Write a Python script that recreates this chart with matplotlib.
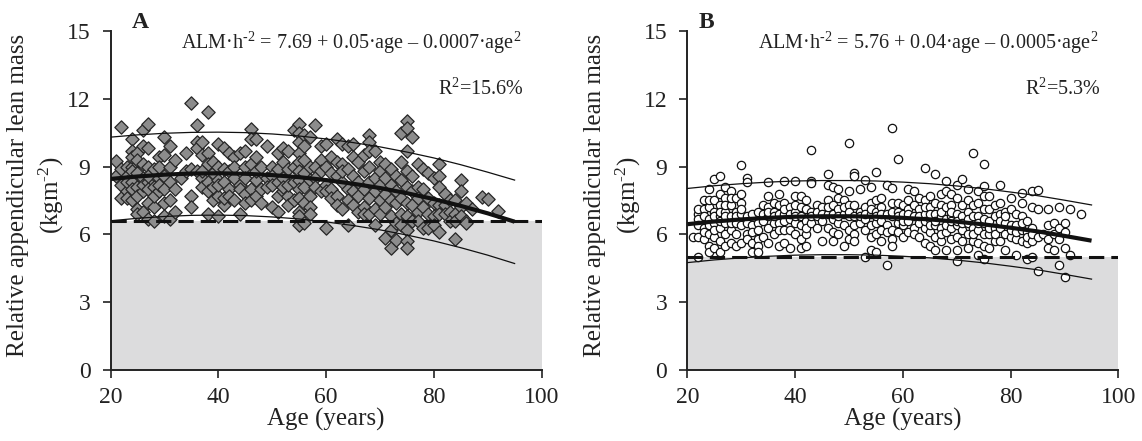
import matplotlib
matplotlib.use("Agg")
import matplotlib.pyplot as plt
import numpy as np

plt.rcParams['font.family'] = ['Liberation Serif', 'DejaVu Serif']
plt.rcParams['mathtext.fontset'] = 'custom'
plt.rcParams['mathtext.rm'] = 'Liberation Serif'
plt.rcParams['mathtext.it'] = 'Liberation Serif:italic'
plt.rcParams['mathtext.bf'] = 'Liberation Serif:bold'

# ---- panel A (diamonds), values read by eye, grouped by age ----
groups_a = {
    21: [9.25, 8.6],
    22: [10.75, 7.6, 8.9, 8.2],
    23: [9.0, 7.9, 8.6, 7.6, 8.3],
    24: [10.2, 9.7, 9.0, 8.3, 7.5, 9.4, 8.8, 8.0],
    25: [9.6, 8.1, 7.1, 8.7, 9.3, 6.9, 7.7],
    26: [10.6, 9.9, 8.5, 7.9, 7.0, 9.1, 8.2],
    27: [10.9, 9.8, 9.0, 7.4, 6.7, 8.3, 8.0, 8.6],
    28: [8.9, 7.2, 6.6, 8.1, 7.7],
    29: [9.4, 8.5, 7.9, 9.0, 8.2],
    30: [10.3, 9.5, 8.0, 7.4, 6.8, 8.6],
    31: [9.9, 9.0, 7.5, 6.7, 8.3],
    32: [9.3, 8.0, 7.0],
    33: [8.5],
    34: [9.6, 8.8],
    35: [11.8, 7.7, 7.2, 8.9],
    36: [10.85, 10.1, 8.8, 9.8],
    37: [10.1, 9.5, 8.5, 8.1, 8.8],
    38: [11.4, 9.6, 8.3, 6.9, 9.1, 7.9],
    39: [8.7, 8.1, 9.2, 7.5],
    40: [10.0, 9.0, 7.7, 6.8, 8.4, 8.2],
    41: [9.8, 8.3, 7.3, 7.6, 8.9],
    42: [9.6, 8.8, 8.0, 7.7],
    43: [9.4, 8.5, 7.5, 9.0],
    44: [9.6, 8.2, 6.9, 8.0],
    45: [9.7, 9.0, 8.5, 7.8, 7.4],
    46: [10.65, 10.2, 9.1, 8.0, 7.5],
    47: [10.2, 9.4, 8.4, 7.7, 8.8],
    48: [9.0, 8.0, 7.4],
    49: [9.9, 8.5, 8.1],
    50: [9.0, 8.6, 7.2, 8.2],
    51: [9.6, 8.3, 7.7, 7.0, 8.9],
    52: [9.8, 9.2, 8.5, 7.9, 8.1],
    53: [9.7, 8.9, 7.7, 7.3, 8.2],
    54: [10.6, 9.0, 8.3, 7.5],
    55: [10.9, 10.5, 10.1, 9.6, 9.2, 8.8, 8.4, 8.0, 7.6, 7.0, 6.4, 6.8],
    56: [10.4, 9.9, 9.3, 8.7, 8.1, 7.4, 6.5],
    57: [10.3, 9.0, 8.4, 7.7, 7.2, 6.9],
    58: [10.85, 9.0, 8.5, 8.1],
    59: [9.9, 9.3, 8.8, 7.9],
    60: [10.0, 9.0, 8.2, 7.9, 6.3],
    61: [9.4, 8.7, 8.0, 7.6],
    62: [10.2, 9.2, 8.6, 7.7, 7.3],
    63: [10.0, 9.1, 8.3, 7.1, 8.8],
    64: [9.9, 8.9, 8.0, 6.4, 7.5],
    65: [10.0, 9.4, 8.6, 7.9, 7.3],
    66: [9.2, 8.3, 7.7, 7.0],
    67: [9.5, 8.8, 8.0, 7.2, 6.9],
    68: [10.4, 10.1, 9.7, 9.0, 8.3, 7.6, 6.9],
    69: [9.7, 8.5, 7.9, 7.1, 6.4],
    70: [9.2, 8.8, 8.2, 7.5, 6.9],
    71: [9.1, 8.5, 7.8, 7.2, 5.85],
    72: [8.9, 8.2, 7.5, 6.8, 5.4, 6.2],
    73: [8.6, 7.9, 7.4, 6.5, 5.75],
    74: [10.5, 9.2, 8.4, 7.6, 6.9, 6.4],
    75: [11.0, 10.7, 9.7, 8.8, 8.1, 7.4, 6.8, 6.2, 5.7, 5.4],
    76: [10.3, 8.6, 7.9, 7.3, 6.6],
    77: [9.1, 8.1, 7.6, 7.0, 6.6],
    78: [8.9, 8.0, 7.2, 6.3],
    79: [8.7, 7.6, 6.9, 6.3],
    80: [8.5, 7.4, 6.8, 6.4],
    81: [9.1, 8.6, 8.1, 7.3, 6.9, 6.1],
    82: [7.8, 7.3, 6.9],
    83: [7.5, 7.0, 6.6],
    84: [7.5, 6.9, 6.6, 5.8],
    85: [8.4, 7.9, 7.2, 6.8],
    86: [7.4, 6.6, 6.5],
    87: [7.1],
    89: [7.65],
    90: [7.55],
    92: [7.05],
}

# ---- panel B (circles) ----
groups_b = {
    21: [5.9],
    22: [5.0, 5.9, 6.9, 7.1, 6.7, 6.4],
    23: [7.5, 7.1, 6.3, 5.8, 6.8, 6.1],
    24: [8.0, 7.2, 6.7, 6.0, 5.5, 5.2, 6.4, 7.5],
    25: [8.45, 7.5, 7.0, 6.5, 5.9, 5.4, 6.2, 6.8],
    26: [8.6, 7.8, 7.3, 6.8, 6.3, 5.7, 5.2, 6.6, 7.0],
    27: [8.1, 7.6, 7.0, 6.5, 6.0, 5.5, 6.8, 7.3],
    28: [7.9, 7.3, 6.8, 6.2, 5.6, 6.5, 7.6],
    29: [7.6, 7.0, 6.5, 6.0, 5.5, 6.8],
    30: [9.05, 7.8, 7.4, 6.9, 6.4, 5.6, 7.1],
    31: [8.5, 8.3, 6.8, 6.0, 5.8, 6.5],
    32: [6.9, 6.4, 5.6, 5.2, 6.1],
    33: [7.0, 6.5, 5.8, 5.5, 5.2, 6.2],
    34: [7.3, 6.6, 5.9, 6.9],
    35: [8.3, 7.7, 7.2, 6.8, 6.3, 5.6, 7.0],
    36: [7.4, 7.0, 6.5, 6.0, 6.8],
    37: [7.8, 7.3, 6.5, 5.5, 6.9, 6.2],
    38: [8.35, 7.4, 6.9, 6.2, 5.6, 6.6, 7.1],
    39: [7.2, 6.7, 6.2, 5.4, 6.9],
    40: [8.35, 7.7, 7.0, 6.5, 6.0, 6.8, 7.3],
    41: [7.7, 7.2, 6.4, 5.8, 5.4, 6.8],
    42: [7.5, 7.1, 6.6, 6.0, 5.5, 6.3],
    43: [9.75, 8.35, 8.25, 7.0, 6.5, 6.8],
    44: [7.3, 6.8, 6.3, 7.0],
    45: [7.2, 6.6, 5.7, 6.9],
    46: [8.65, 8.2, 7.5, 6.9, 6.3, 7.2],
    47: [8.1, 7.3, 6.7, 6.1, 5.7, 6.9],
    48: [8.0, 7.6, 7.1, 6.5, 6.0, 6.8],
    49: [7.5, 6.9, 6.4, 5.5, 7.2],
    50: [10.05, 7.9, 7.3, 6.8, 6.2, 5.8, 7.0],
    51: [8.7, 8.6, 7.3, 6.8, 6.0, 5.7, 6.4],
    52: [8.0, 7.0, 6.5, 6.8],
    53: [8.4, 7.2, 6.7, 6.2, 5.0, 6.9],
    54: [8.1, 7.4, 6.9, 6.4, 5.9, 5.3, 7.1],
    55: [8.75, 7.5, 7.0, 6.5, 6.0, 5.2, 6.8],
    56: [7.6, 7.2, 6.6, 6.2, 5.7, 6.9],
    57: [8.2, 6.9, 6.4, 4.65, 6.1],
    58: [10.7, 8.05, 7.4, 6.8, 6.2, 5.8, 5.5, 7.0],
    59: [9.35, 7.4, 7.0, 6.5, 6.1, 6.8],
    60: [7.3, 6.9, 6.4, 5.9, 6.6],
    61: [8.0, 7.5, 7.1, 6.6, 6.1, 6.9],
    62: [7.9, 7.3, 6.8, 6.3, 6.0],
    63: [7.6, 7.1, 6.5, 5.9, 6.8],
    64: [8.95, 7.5, 6.9, 6.3, 5.6, 6.6, 7.2],
    65: [7.7, 7.2, 6.7, 6.1, 5.5, 6.4, 6.9],
    66: [8.65, 7.4, 6.9, 6.4, 5.9, 5.3, 6.6],
    67: [7.8, 7.3, 6.8, 6.3, 5.7, 6.0, 7.0],
    68: [8.35, 7.9, 7.2, 6.7, 6.1, 5.3, 6.4],
    69: [7.8, 7.3, 6.8, 6.3, 5.8, 6.6, 7.0],
    70: [8.2, 7.6, 6.9, 6.4, 5.9, 5.3, 4.8, 6.6],
    71: [8.45, 7.3, 6.8, 6.2, 5.7, 6.5],
    72: [8.0, 7.5, 7.0, 6.5, 6.0, 5.4, 6.7],
    73: [9.6, 7.3, 6.8, 6.3, 5.7, 6.0],
    74: [7.9, 7.4, 6.8, 6.2, 5.6, 5.1, 6.5],
    75: [9.1, 8.15, 7.7, 7.1, 6.5, 6.0, 5.5, 4.9, 6.7],
    76: [7.7, 7.1, 6.6, 6.0, 5.4, 6.3],
    77: [7.3, 6.8, 6.3, 5.7, 6.0],
    78: [8.2, 7.4, 6.9, 6.3, 5.7, 6.6],
    79: [7.0, 6.5, 6.0, 5.3, 6.8],
    80: [7.6, 7.1, 6.4, 5.9, 6.2],
    81: [6.9, 6.4, 5.8, 5.1, 6.1],
    82: [7.85, 7.4, 6.8, 6.2, 5.7, 6.5],
    83: [6.6, 6.1, 5.6, 4.9, 5.9],
    84: [7.9, 7.2, 6.3, 5.7, 5.0, 6.0],
    85: [7.95, 7.1, 5.9, 4.4],
    86: [6.0],
    87: [7.1, 6.4, 5.8, 5.4],
    88: [6.5, 6.0, 5.3],
    89: [7.2, 6.3, 5.8, 4.65],
    90: [6.5, 6.1, 5.4, 4.1],
    91: [7.1, 5.1],
    93: [6.9],
}

curve_age = [20, 25, 30, 35, 40, 45, 50, 55, 60, 65, 70, 75, 80, 85, 90, 95]
mean_a = [8.45, 8.56, 8.64, 8.69, 8.70, 8.68, 8.62, 8.53, 8.40, 8.24, 8.05, 7.82, 7.56, 7.26, 6.93, 6.56]
upper_a = [10.30, 10.40, 10.47, 10.51, 10.52, 10.50, 10.44, 10.35, 10.22, 10.06, 9.87, 9.64, 9.38, 9.08, 8.75, 8.40]
lower_a = [6.60, 6.71, 6.79, 6.84, 6.85, 6.83, 6.77, 6.68, 6.55, 6.39, 6.20, 5.97, 5.71, 5.41, 5.08, 4.71]
mean_b = [6.45, 6.57, 6.66, 6.73, 6.78, 6.80, 6.80, 6.78, 6.73, 6.66, 6.56, 6.44, 6.29, 6.13, 5.93, 5.72]
upper_b = [8.03, 8.15, 8.24, 8.31, 8.36, 8.38, 8.38, 8.36, 8.31, 8.24, 8.14, 8.02, 7.87, 7.71, 7.51, 7.30]
lower_b = [4.75, 4.87, 4.96, 5.03, 5.08, 5.10, 5.10, 5.08, 5.03, 4.96, 4.86, 4.74, 4.59, 4.43, 4.23, 4.02]

cutoff_a = 6.6
cutoff_b = 5.0

eq_a = r'ALM·h$^{\text{-2}}$ = 7.69 + 0.05·age – 0.0007·age$^{\text{2}}$'
eq_b = r'ALM·h$^{\text{-2}}$ = 5.76 + 0.04·age – 0.0005·age$^{\text{2}}$'
r2_a = r'R$^{\text{2}}$=15.6%'
r2_b = r'R$^{\text{2}}$=5.3%'


def flatten(groups):
    xs, ys = [], []
    for age, vals in groups.items():
        for v in vals:
            xs.append(age)
            ys.append(v)
    return np.array(xs), np.array(ys)


def draw_panel(ax, groups, mean, upper, lower, cutoff, letter, letter_x, eq, r2, diamond):
    ax.fill_between([20, 100], 0, cutoff, color='#dcdcdd', lw=0, zorder=0)
    xs, ys = flatten(groups)
    if diamond:
        ax.scatter(xs, ys, marker='D', s=46, facecolor='#8c8c8c',
                   edgecolor='#262626', linewidth=0.9, zorder=2)
    else:
        ax.scatter(xs, ys, marker='o', s=36, facecolor='white',
                   edgecolor='#111111', linewidth=0.9, zorder=2)
    ax.plot(curve_age, upper, color='#111111', lw=0.9, zorder=3)
    ax.plot(curve_age, lower, color='#111111', lw=0.9, zorder=3)
    ax.plot(curve_age, mean, color='#111111', lw=3.0, zorder=4,
            solid_capstyle='butt')
    ax.plot([20, 100], [cutoff, cutoff], color='#111111', lw=2.2,
            dashes=(5, 2.3), zorder=4)

    ax.set_xlim(20, 100)
    ax.set_ylim(0, 15)
    ax.set_xticks([20, 40, 60, 80, 100])
    ax.set_yticks([0, 3, 6, 9, 12, 15])
    ax.spines['top'].set_visible(False)
    ax.spines['right'].set_visible(False)
    ax.spines['left'].set_linewidth(1.4)
    ax.spines['bottom'].set_linewidth(1.4)
    ax.spines['left'].set_color('#222222')
    ax.spines['bottom'].set_color('#222222')
    ax.tick_params(direction='out', length=5.5, width=1.2, labelsize=17,
                   color='#222222', labelcolor='#222222')
    ax.tick_params(axis='y', pad=9)
    ax.tick_params(axis='x', pad=7)
    ax.set_xlabel('Age (years)', fontsize=18, labelpad=0, color='#222222')
    ax.set_ylabel('Relative appendicular lean mass\n' + r'(kgm$^{\text{-2}}$)',
                  fontsize=18, linespacing=1.35, color='#222222')
    ax.yaxis.set_label_coords(-0.104, 0.515)
    ax.text(letter_x, 15.35, letter, fontsize=17, fontweight='bold',
            ha='left', va='center', clip_on=False, color='#222222')
    ax.text(64.6, 14.47, eq, fontsize=14.5, ha='center', va='center', color='#222222')
    ax.text(96.6, 12.4, r2, fontsize=14.5, ha='right', va='center', color='#222222')


fig = plt.figure(figsize=(11.42, 4.41), dpi=100)
ax_a = fig.add_axes([0.0968, 0.161, 0.3774, 0.769])
ax_b = fig.add_axes([0.602, 0.161, 0.3774, 0.769])

draw_panel(ax_a, groups_a, mean_a, upper_a, lower_a, cutoff_a, 'A', 24.0, eq_a, r2_a, True)
draw_panel(ax_b, groups_b, mean_b, upper_b, lower_b, cutoff_b, 'B', 22.0, eq_b, r2_b, False)

fig.savefig('out.png', dpi=100)
